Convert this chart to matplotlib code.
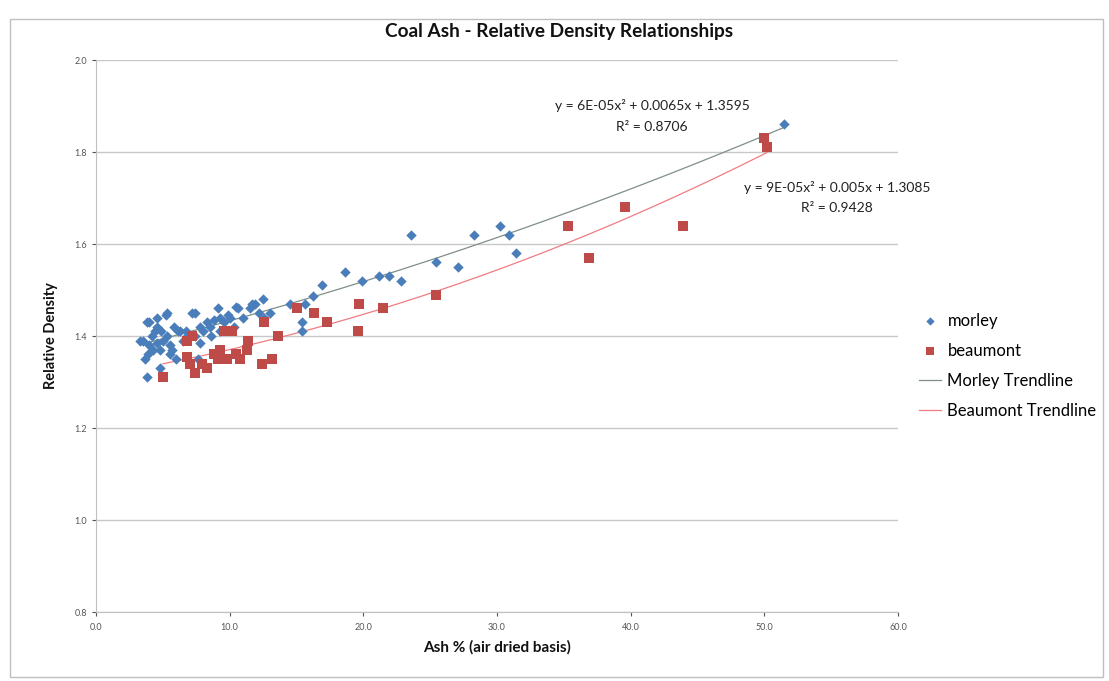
import numpy as np
import matplotlib
matplotlib.use("Agg")
import matplotlib.pyplot as plt
from matplotlib.patches import Rectangle

plt.rcParams['font.family'] = ['Lato', 'DejaVu Sans']

title = "Coal Ash - Relative Density Relationships"
x_label = "Ash % (air dried basis)"
y_label = "Relative Density"
series_names = ["morley", "beaumont", "Morley Trendline", "Beaumont Trendline"]

morley_ash = [3.5, 3.7, 3.8, 3.8, 3.9, 4.0, 4.0, 4.2, 4.4, 4.6, 4.6, 4.6, 4.8, 4.8, 4.9,
              5.0, 5.2, 5.3, 5.3, 5.5, 5.5, 5.8, 6.1, 6.3, 6.5, 6.8, 7.2, 7.4, 7.4, 7.6,
              7.8, 7.8, 8.0, 8.3, 8.5, 8.8, 9.1, 9.3, 9.3, 9.6, 9.9, 10.0, 10.5, 10.6,
              11.0, 11.5, 11.7, 11.9, 12.5, 12.6, 13.0, 14.5, 15.4, 15.4, 15.6, 16.2,
              16.9, 18.6, 19.9, 21.2, 21.9, 22.8, 23.6, 25.4, 27.1, 28.3, 30.2, 30.9,
              31.4, 51.5, 3.3, 4.3, 5.7, 6.7, 8.6, 10.3, 12.2, 6.0]
morley_rd = [1.39, 1.35, 1.31, 1.43, 1.36, 1.43, 1.38, 1.40, 1.41, 1.44, 1.385, 1.42,
             1.33, 1.37, 1.41, 1.39, 1.445, 1.45, 1.40, 1.38, 1.36, 1.42, 1.41, 1.41,
             1.39, 1.40, 1.45, 1.45, 1.40, 1.35, 1.42, 1.385, 1.41, 1.43, 1.42, 1.435,
             1.46, 1.41, 1.44, 1.43, 1.445, 1.44, 1.463, 1.46, 1.44, 1.46, 1.47, 1.47,
             1.48, 1.44, 1.45, 1.47, 1.43, 1.41, 1.47, 1.487, 1.51, 1.54, 1.52, 1.53,
             1.53, 1.52, 1.62, 1.56, 1.55, 1.62, 1.64, 1.62, 1.58, 1.86, 1.39, 1.37,
             1.37, 1.41, 1.40, 1.42, 1.45, 1.35]

beaumont_ash = [5.0, 6.8, 7.2, 6.8, 7.0, 7.4, 7.9, 8.3, 8.8, 9.1, 9.3, 9.6, 9.8, 10.2,
                10.5, 10.8, 11.3, 11.4, 12.4, 12.6, 13.2, 13.6, 15.0, 16.3, 17.3, 19.6,
                19.7, 21.5, 25.4, 35.3, 36.9, 39.6, 43.9, 50.0, 50.2]
beaumont_rd = [1.31, 1.39, 1.40, 1.355, 1.34, 1.32, 1.34, 1.33, 1.36, 1.35, 1.37, 1.41,
               1.35, 1.41, 1.36, 1.35, 1.37, 1.39, 1.34, 1.43, 1.35, 1.40, 1.46, 1.45,
               1.43, 1.41, 1.47, 1.46, 1.49, 1.64, 1.57, 1.68, 1.64, 1.83, 1.81]

morley_eq = ["y = 6E-05x² + 0.0065x + 1.3595", "R² = 0.8706"]
beaumont_eq = ["y = 9E-05x² + 0.005x + 1.3085", "R² = 0.9428"]

x_ticks = [0, 10, 20, 30, 40, 50, 60]
y_ticks = [0.8, 1.0, 1.2, 1.4, 1.6, 1.8, 2.0]

fig = plt.figure(figsize=(11.09, 6.81), dpi=100)
fig.patch.set_facecolor("white")
fig.add_artist(Rectangle((0.009, 0.006), 0.986, 0.966, transform=fig.transFigure,
                         fill=False, edgecolor="#BFBFBF", linewidth=1.0))

ax = fig.add_axes([96/1109, 1 - 612/681, 802/1109, 552/681])

blue = "#4A7EBB"
red = "#BE4B48"

ax.scatter(morley_ash, morley_rd, marker="D", s=28, color=blue, linewidths=0,
           label=series_names[0], zorder=3)
ax.scatter(beaumont_ash, beaumont_rd, marker="s", s=42, color=red, linewidths=0,
           label=series_names[1], zorder=3)

mc = np.polyfit(morley_ash, morley_rd, 2)
bc = np.polyfit(beaumont_ash, beaumont_rd, 2)
xm = np.linspace(min(morley_ash), max(morley_ash), 200)
xb = np.linspace(min(beaumont_ash), max(beaumont_ash), 200)
ax.plot(xm, np.polyval(mc, xm), color="#7F8F86", lw=0.9, label=series_names[2], zorder=2)
ax.plot(xb, np.polyval(bc, xb), color="#F07C82", lw=0.9, label=series_names[3], zorder=2)

def px(xp, yp):
    return ((xp - 96) / 802, (612 - yp) / 552)

for (xp, yp), t in zip([(652, 106), (652, 127)], morley_eq):
    ax.text(*px(xp, yp), t, transform=ax.transAxes, ha="center", va="center",
            fontsize=10, color="#222222")
for (xp, yp), t in zip([(837, 187), (837, 208)], beaumont_eq):
    ax.text(*px(xp, yp), t, transform=ax.transAxes, ha="center", va="center",
            fontsize=10, color="#222222")

ax.set_xlim(0, 60)
ax.set_ylim(0.8, 2.0)
ax.set_xticks(x_ticks)
ax.set_xticklabels([f"{v:.1f}" for v in x_ticks])
ax.set_yticks(y_ticks)
ax.set_yticklabels([f"{v:.1f}" for v in y_ticks])
ax.tick_params(labelsize=6.5, colors="#555555", length=3, width=0.8)
ax.tick_params(axis="x", pad=5)
ax.grid(axis="y", color="#C8C8C8", linewidth=1.0)
ax.set_axisbelow(True)
for s in ["top", "right"]:
    ax.spines[s].set_visible(False)
for s in ["left", "bottom"]:
    ax.spines[s].set_color("#BFBFBF")

ax.set_xlabel(x_label, fontsize=11, fontweight="bold", color="#111111", labelpad=6)
ax.set_ylabel(y_label, fontsize=10.5, fontweight="bold", color="#111111", labelpad=12)
fig.text(559/1109, 1 - 31/681, title, ha="center", va="center", fontsize=13.7,
         fontweight="bold", color="#111111")

leg = ax.legend(loc="center left", bbox_to_anchor=(1.018, 0.446), frameon=False,
                fontsize=12, handlelength=1.3, handletextpad=0.4, labelspacing=0.85,
                borderaxespad=0, markerscale=0.8)

fig.savefig("out.png", dpi=100)
